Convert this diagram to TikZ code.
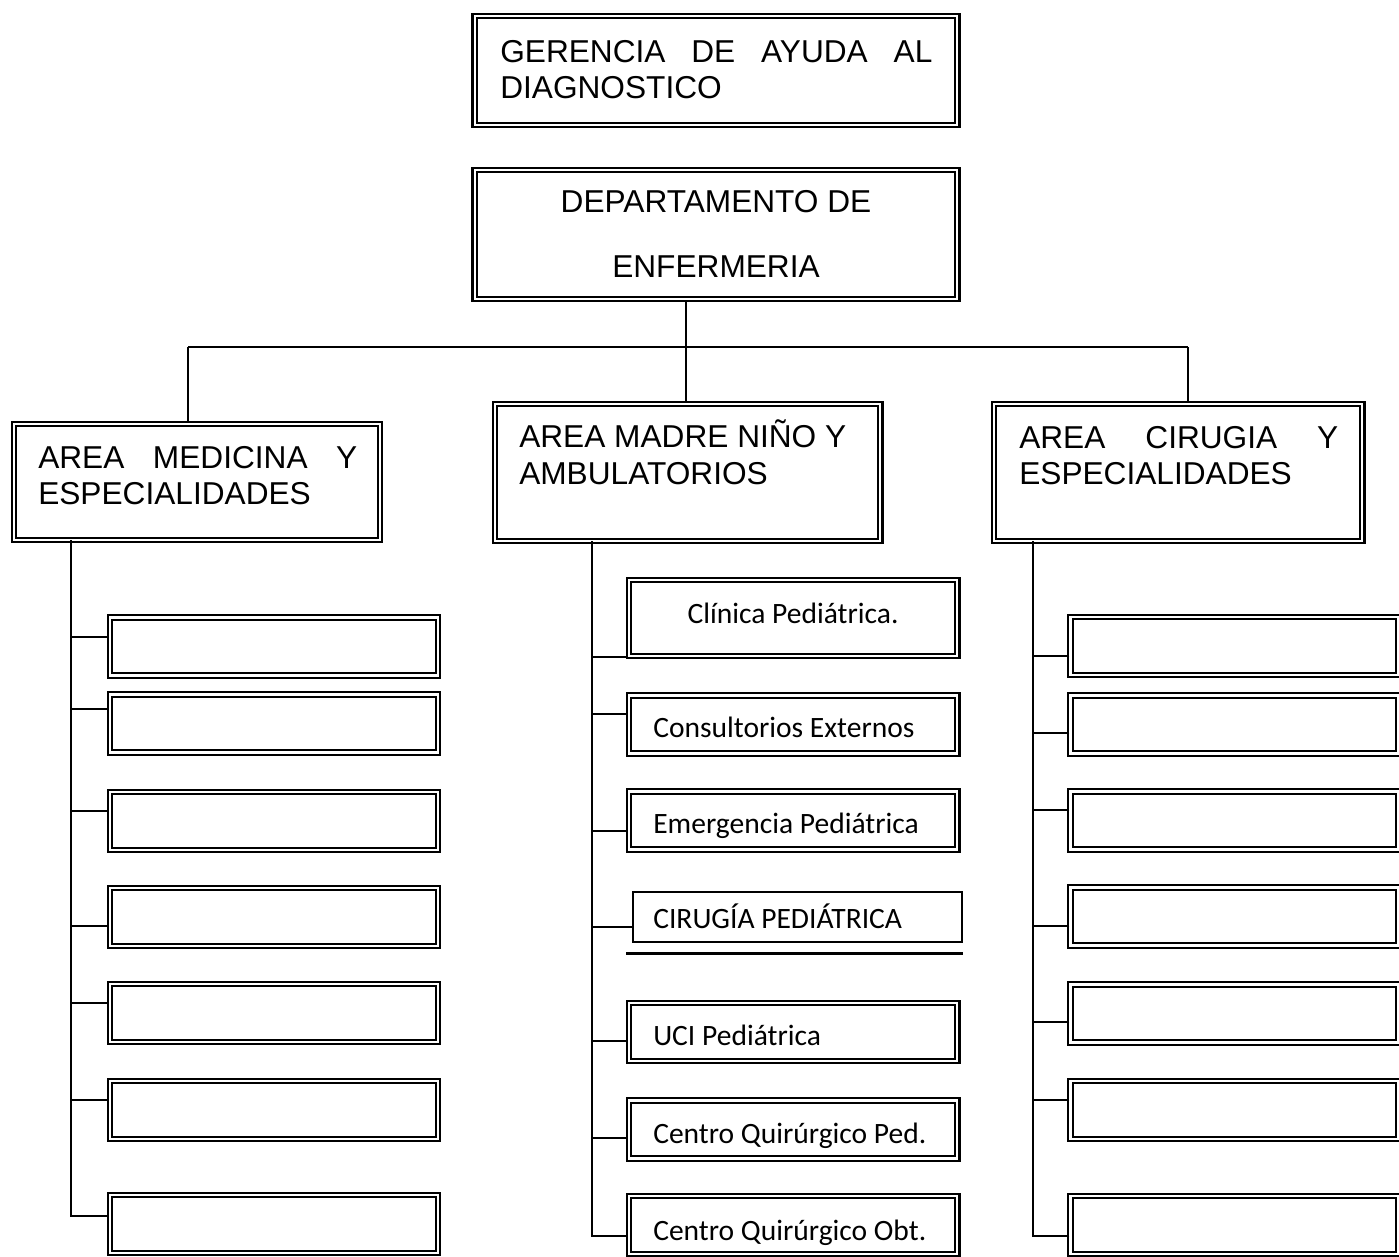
\documentclass[tikz,border=0pt]{standalone}
\usepackage{fontspec}
\setmainfont{Liberation Sans}
\newfontfamily\calfont{Carlito}

\tikzset{
  dbox/.style={draw, double, double distance=1.9pt, line width=1.5pt, inner sep=0pt},
  subbox/.style={dbox, minimum width=8.2cm, minimum height=1.45cm},
  conn/.style={line width=1.3pt},
  areatext/.style={anchor=base west, inner sep=0pt, align=justify, font=\fontsize{22.5}{26}\selectfont},
  subtext/.style={anchor=base west, inner sep=0pt, font=\calfont\fontsize{21}{24}\selectfont},
}

\begin{document}
\begin{tikzpicture}[x=0.025cm,y=-0.025cm]
    \useasboundingbox (0,0) rectangle (1399,1256);

\node[dbox, minimum width=12.05cm, minimum height=2.725cm] (ger) at (716,70.5) {};
\node[dbox, minimum width=12.05cm, minimum height=3.225cm] (dep) at (716,234.5) {};
\node[dbox, minimum width=9.15cm,  minimum height=2.9cm]   (med) at (197,482) {};
\node[dbox, minimum width=9.625cm, minimum height=3.425cm] (mad) at (687.5,472.5) {};
\node[dbox, minimum width=9.2cm,   minimum height=3.425cm] (cir) at (1178,472.5) {};

\node[areatext, text width=10.8cm]  (ger_txt) at (500,62)  {GERENCIA DE AYUDA AL\linebreak DIAGNOSTICO};
\node[areatext, anchor=base, align=center, font=\fontsize{22.5}{46}\selectfont] (dep_txt) at (716,277) {DEPARTAMENTO DE\\ENFERMERIA};
\node[areatext, text width=7.975cm] (med_txt) at (38,468)  {AREA MEDICINA Y\linebreak ESPECIALIDADES};
\node[areatext, align=left]         (mad_txt) at (519,484) {AREA MADRE NIÑO Y\\AMBULATORIOS};
\node[areatext, text width=7.975cm] (cir_txt) at (1019,448) {AREA CIRUGIA Y\linebreak ESPECIALIDADES};

\coordinate (hub)   at (686,347);
\coordinate (hub_l) at (188,347);
\coordinate (hub_r) at (1188,347);
\draw[conn] (hub |- dep.south) -- (hub);
\draw[conn] (hub_l) -- (hub_r);
\draw[conn] (hub_l) -- (hub_l |- med.north);
\draw[conn] (hub) -- (hub |- mad.north);
\draw[conn] (hub_r) -- (hub_r |- cir.north);

\coordinate (med_sp) at (71,540);
\coordinate (mad_sp) at (592,541);
\coordinate (cir_sp) at (1033,541);

\node[subbox] (m1) at (274,646.5) {};
\node[subbox] (m2) at (274,723.5) {};
\node[subbox] (m3) at (274,821)   {};
\node[subbox] (m4) at (274,917)   {};
\node[subbox] (m5) at (274,1013)  {};
\node[subbox] (m6) at (274,1110)  {};
\node[subbox] (m7) at (274,1224)  {};

\draw[conn] ([shift={(0,-9.5)}]m1.west)  -| (med_sp);
\draw[conn] ([shift={(0,-14.5)}]m2.west) -| (med_sp);
\draw[conn] ([shift={(0,-10)}]m3.west)   -| (med_sp);
\draw[conn] ([shift={(0,9)}]m4.west)     -| (med_sp);
\draw[conn] ([shift={(0,-10)}]m5.west)   -| (med_sp);
\draw[conn] ([shift={(0,-10)}]m6.west)   -| (med_sp);
\draw[conn] ([shift={(0,-8)}]m7.west)    -| (med_sp);

\node[subbox, minimum height=1.9cm] (p1) at (793,618) {};
\node[subbox] (p2) at (793,724.5)  {};
\node[subbox] (p3) at (793,820.5)  {};
\node[draw, line width=0.9pt, inner sep=0pt, minimum width=8.225cm, minimum height=1.25cm] (p4) at (797.5,917) {};
\node[subbox] (p5) at (793,1032)   {};
\node[subbox] (p6) at (793,1129.5) {};
\node[subbox] (p7) at (793,1225)   {};
\draw[line width=2.2pt] ([shift={(-6,11)}]p4.south west) -- ([shift={(0,11)}]p4.south east);

\node[subtext, anchor=base] (p1_txt) at (793,623) {Clínica Pediátrica.};
\node[subtext] (p2_txt) at (653,737)  {Consultorios Externos};
\node[subtext] (p3_txt) at (653,833)  {Emergencia Pediátrica};
\node[subtext] (p4_txt) at (653,928)  {CIRUGÍA PEDIÁTRICA};
\node[subtext] (p5_txt) at (653,1045) {UCI Pediátrica};
\node[subtext] (p6_txt) at (653,1143) {Centro Quirúrgico Ped.};
\node[subtext] (p7_txt) at (653,1240) {Centro Quirúrgico Obt.};

\draw[conn] (p1.south west)              -| (mad_sp);
\draw[conn] ([shift={(0,-10.5)}]p2.west) -| (mad_sp);
\draw[conn] ([shift={(0,10.5)}]p3.west)  -| (mad_sp);
\draw[conn] ([shift={(0,10)}]p4.west)    -| (mad_sp);
\draw[conn] ([shift={(0,9)}]p5.west)     -| (mad_sp);
\draw[conn] ([shift={(0,8.5)}]p6.west)   -| (mad_sp);
\draw[conn] ([shift={(0,11)}]p7.west)    -| (mad_sp);

\node[subbox] (r1) at (1234.5,646)    {};
\node[subbox] (r2) at (1234.5,724.5)  {};
\node[subbox] (r3) at (1234.5,820.5)  {};
\node[subbox] (r4) at (1234.5,916.5)  {};
\node[subbox] (r5) at (1234.5,1013.5) {};
\node[subbox] (r6) at (1234.5,1110)   {};
\node[subbox] (r7) at (1234.5,1225)   {};

\draw[conn] ([shift={(0,10)}]r1.west)    -| (cir_sp);
\draw[conn] ([shift={(0,8.5)}]r2.west)   -| (cir_sp);
\draw[conn] ([shift={(0,-10.5)}]r3.west) -| (cir_sp);
\draw[conn] ([shift={(0,9.5)}]r4.west)   -| (cir_sp);
\draw[conn] ([shift={(0,8.5)}]r5.west)   -| (cir_sp);
\draw[conn] ([shift={(0,-10)}]r6.west)   -| (cir_sp);
\draw[conn] ([shift={(0,11)}]r7.west)    -| (cir_sp);

\end{tikzpicture}
\end{document}
